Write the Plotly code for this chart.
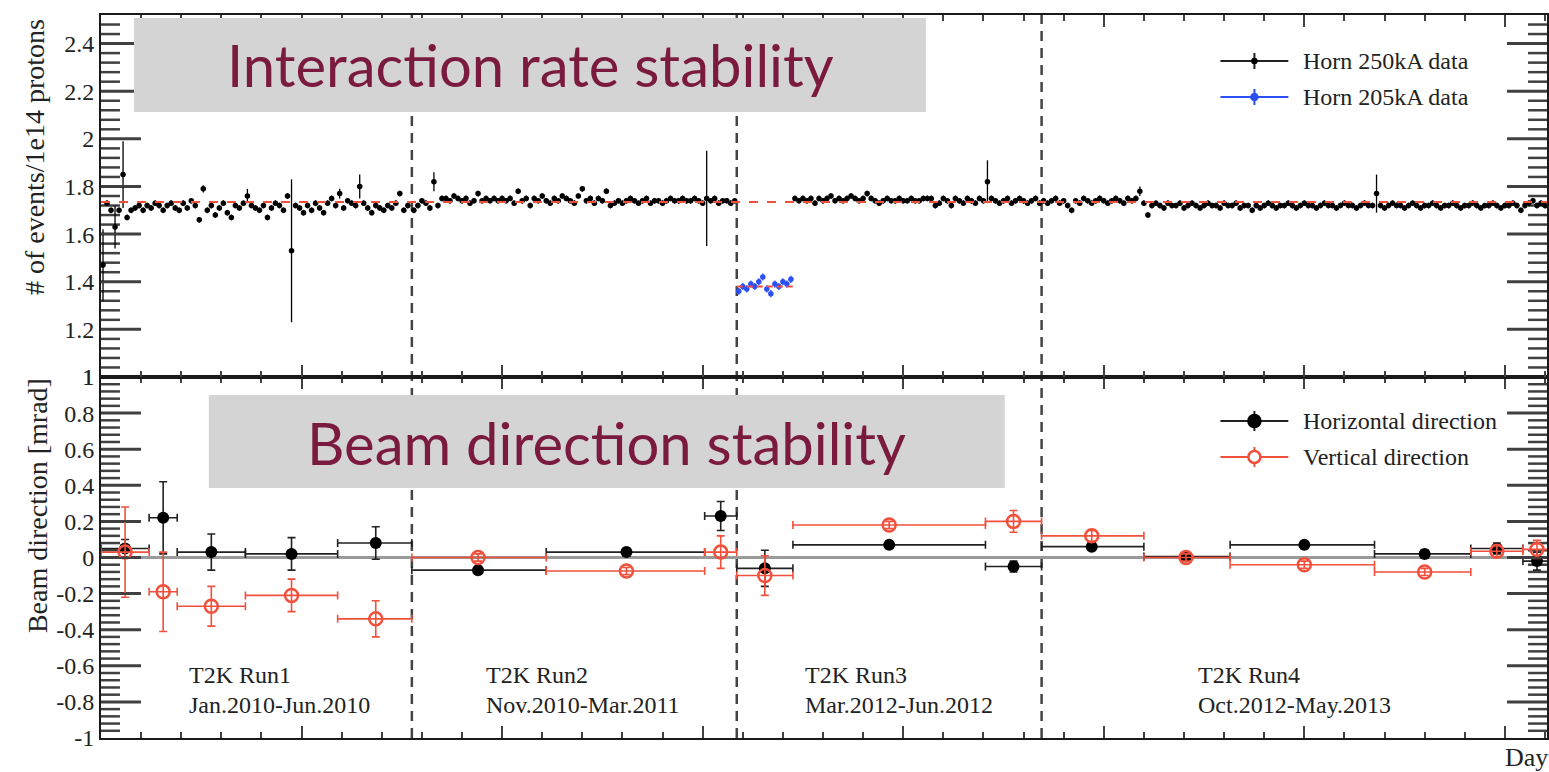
import plotly.graph_objects as go

# ------------------------------------------------------------------
# Interaction rate per 1e14 protons, one point every 2 beam days
# ------------------------------------------------------------------
DAY_STEP = 2

run1_start = 1
run1_rate = [
    1.47, 1.73, 1.70, 1.63, 1.70, 1.85, 1.67, 1.70, 1.71, 1.72,
    1.70, 1.72, 1.71, 1.73, 1.72, 1.70, 1.72, 1.73, 1.71, 1.70,
    1.73, 1.71, 1.74, 1.72, 1.66, 1.79, 1.70, 1.72, 1.68, 1.71,
    1.73, 1.69, 1.67, 1.72, 1.71, 1.73, 1.76, 1.72, 1.71, 1.70,
    1.72, 1.67, 1.71, 1.73, 1.72, 1.70, 1.76, 1.53, 1.72, 1.71,
    1.69, 1.72, 1.70, 1.73, 1.71, 1.69, 1.73, 1.75, 1.72, 1.77,
    1.71, 1.74, 1.73, 1.72, 1.80, 1.73, 1.71, 1.69, 1.72, 1.71,
    1.70, 1.72, 1.71, 1.73, 1.77, 1.70, 1.72,
]

run2_start = 156
run2_rate = [
    1.70, 1.72, 1.74, 1.73, 1.71, 1.82, 1.72, 1.75, 1.75, 1.74,
    1.76, 1.75, 1.74, 1.75, 1.73, 1.74, 1.77, 1.74, 1.75, 1.74,
    1.75, 1.74, 1.75, 1.74, 1.75, 1.73, 1.78, 1.74, 1.75, 1.72,
    1.75, 1.74, 1.76, 1.74, 1.73, 1.75, 1.74, 1.76, 1.75, 1.74,
    1.73, 1.76, 1.79, 1.74, 1.75, 1.73, 1.75, 1.74, 1.78, 1.72,
    1.73, 1.74, 1.73, 1.74, 1.75, 1.74, 1.73, 1.74, 1.75, 1.73,
    1.74, 1.74, 1.73, 1.74, 1.75, 1.74, 1.74, 1.75, 1.74, 1.74,
    1.75, 1.74, 1.73, 1.75, 1.74, 1.75, 1.73, 1.74, 1.74, 1.73,
    1.74,
]

horn205_start = 318
horn205_rate = [
    1.36, 1.38, 1.37, 1.39, 1.38, 1.40, 1.42, 1.37, 1.35, 1.39,
    1.38, 1.40, 1.39, 1.41,
]

run3_start = 346
run3_rate = [
    1.75, 1.74, 1.75, 1.74, 1.75, 1.73, 1.75, 1.74, 1.75, 1.76,
    1.74, 1.75, 1.74, 1.75, 1.76, 1.75, 1.74, 1.75, 1.77, 1.75,
    1.74, 1.73, 1.74, 1.75, 1.74, 1.74, 1.75, 1.74, 1.74, 1.75,
    1.74, 1.74, 1.75, 1.75, 1.75, 1.72, 1.73, 1.75, 1.74, 1.72,
    1.75, 1.74, 1.73, 1.75, 1.74, 1.73, 1.75, 1.74, 1.82, 1.75,
    1.74, 1.73, 1.74, 1.75, 1.73, 1.74, 1.75, 1.74, 1.73, 1.74,
    1.75, 1.73,
]

run4_start = 470
run4_rate = [
    1.74, 1.73, 1.74, 1.75, 1.73, 1.74, 1.72, 1.70,
    1.74, 1.73, 1.75, 1.74, 1.73, 1.74, 1.75, 1.74, 1.73, 1.74,
    1.75, 1.74, 1.73, 1.75, 1.74, 1.75, 1.78,
    1.73, 1.68,
    1.72, 1.73, 1.72, 1.71, 1.73, 1.72, 1.72, 1.73, 1.71, 1.72,
    1.73, 1.72, 1.71, 1.72, 1.73, 1.72, 1.72, 1.71, 1.73, 1.72,
    1.72, 1.73, 1.71, 1.72, 1.72, 1.70,
    1.72, 1.71, 1.72, 1.73, 1.72, 1.71, 1.72, 1.72, 1.73, 1.72,
    1.71, 1.72, 1.73, 1.72, 1.72, 1.71, 1.72, 1.73, 1.72, 1.72,
    1.71, 1.72, 1.73, 1.72, 1.72, 1.71, 1.72, 1.73, 1.72, 1.72,
    1.77,
    1.72, 1.71, 1.72, 1.73, 1.72, 1.72, 1.71, 1.72, 1.73, 1.72,
    1.71, 1.72, 1.72, 1.73, 1.72, 1.71, 1.72, 1.72, 1.73, 1.72,
    1.71, 1.72, 1.72, 1.73, 1.72, 1.71, 1.72, 1.72, 1.73, 1.72,
    1.71, 1.72, 1.72, 1.73, 1.72,
    1.70,
    1.72, 1.73, 1.74, 1.72, 1.73, 1.72,
]

# statistical error of a typical day, and the days with larger errors
rate_err = 0.012
horn205_err = 0.015
rate_large_err = {1: 0.15, 7: 0.09, 11: 0.14, 51: 0.015, 73: 0.03, 95: 0.30,
                  119: 0.02, 129: 0.05, 166: 0.04, 302: 0.20, 442: 0.09,
                  518: 0.02, 636: 0.08}

# constant fits
fit_250kA = 1.735
fit_205kA = 1.38

# ------------------------------------------------------------------
# Beam direction per period [mrad]
# ------------------------------------------------------------------
bin_lo     = [0, 24, 38, 72, 118, 155, 222, 301, 317, 345, 441, 469, 520, 563, 635, 683, 709]
bin_hi     = [24, 38, 72, 118, 155, 222, 301, 317, 345, 441, 469, 520, 563, 635, 683, 709, 726]
bin_center = [12, 31, 55, 95, 137, 188, 262, 309, 331, 393, 455, 494, 541, 600, 660, 696, 716]

horizontal     = [0.05, 0.22, 0.03, 0.02, 0.08, -0.07, 0.03, 0.23, -0.06, 0.07, -0.05, 0.06, 0.005, 0.07, 0.02, 0.05, -0.02]
horizontal_err = [0.05, 0.20, 0.10, 0.09, 0.09, 0.02, 0.02, 0.08, 0.10, 0.02, 0.03, 0.02, 0.02, 0.02, 0.02, 0.03, 0.05]
vertical       = [0.03, -0.19, -0.27, -0.21, -0.34, 0.0, -0.075, 0.03, -0.10, 0.18, 0.20, 0.12, 0.0, -0.04, -0.08, 0.035, 0.045]
vertical_err   = [0.25, 0.22, 0.11, 0.09, 0.10, 0.02, 0.02, 0.09, 0.11, 0.02, 0.06, 0.03, 0.02, 0.02, 0.02, 0.03, 0.05]

run_boundaries = [155, 317, 469]
run_names = ["T2K Run1", "T2K Run2", "T2K Run3", "T2K Run4"]
run_periods = ["Jan.2010-Jun.2010", "Nov.2010-Mar.2011", "Mar.2012-Jun.2012", "Oct.2012-May.2013"]
run_label_day = [43, 191, 350, 546]

dir_ticks = [-1, -0.8, -0.6, -0.4, -0.2, 0, 0.2, 0.4, 0.6, 0.8, 1]

# ------------------------------------------------------------------
# page geometry
# ------------------------------------------------------------------
W, H = 1549, 772
PL, PR, PT, PB = 101, 1549, 15, 738
SPLIT = 377
X_MAX = 721
RATE_RANGE = [1, 2.52]
DIR_RANGE = [-1, 1]
MAJOR_TICK_LEN, MINOR_TICK_LEN = 40, 19   # pixels

def fx(px):
    return (px - PL) / (PR - PL)

def fy(py):
    return (PB - py) / (PB - PT)

SERIF = "Liberation Serif"
INK = "#222222"
TICK = "#404040"
RED = "#F0503C"
BLUE = "#2B50F5"
MAROON = "#7A1A3E"

fig = go.Figure()


# long inward y ticks on both sides of each panel (major every 0.2, minor every 0.04),
# drawn as line segments in day units of the shared x axis
def y_tick_trace(xaxis, yaxis, lo, hi, major=0.2, minor=0.04):
    days_per_px = X_MAX / (PR - PL)
    n = int(round((hi - lo) / minor))
    xs_major, ys_major, xs_minor, ys_minor = [], [], [], []
    for i in range(1, n):
        v = lo + i * minor
        is_major = abs(v / major - round(v / major)) < 1e-6
        length = (MAJOR_TICK_LEN if is_major else MINOR_TICK_LEN) * days_per_px
        xs, ys = (xs_major, ys_major) if is_major else (xs_minor, ys_minor)
        xs += [0, length, None, X_MAX - length, X_MAX, None]
        ys += [v, v, None, v, v, None]
    for xs, ys, w in [(xs_major, ys_major, 3), (xs_minor, ys_minor, 2.5)]:
        fig.add_trace(go.Scatter(x=xs, y=ys, mode="lines", xaxis=xaxis, yaxis=yaxis,
                                 line=dict(color=TICK, width=w), hoverinfo="skip",
                                 showlegend=False))


y_tick_trace("x2", "y2", RATE_RANGE[0], RATE_RANGE[1])
y_tick_trace("x", "y", DIR_RANGE[0], DIR_RANGE[1])


def days_for(start, vals):
    return [start + DAY_STEP * i for i in range(len(vals))]


def rate_trace(start, vals, color, base_err):
    days = days_for(start, vals)
    errs = [rate_large_err.get(d, base_err) for d in days]
    return go.Scatter(
        x=days, y=vals, mode="markers", xaxis="x2", yaxis="y2",
        marker=dict(color=color, size=5.5),
        error_y=dict(type="data", array=errs, color=color, thickness=1.3, width=0),
        error_x=dict(type="constant", value=DAY_STEP / 2, color=color, thickness=2, width=0),
        showlegend=False, hoverinfo="x+y",
    )


for start, vals in [(run1_start, run1_rate), (run2_start, run2_rate),
                    (run3_start, run3_rate), (run4_start, run4_rate)]:
    fig.add_trace(rate_trace(start, vals, "black", rate_err))
fig.add_trace(rate_trace(horn205_start, horn205_rate, BLUE, horn205_err))

err_plus = [h - c for h, c in zip(bin_hi, bin_center)]
err_minus = [c - l for l, c in zip(bin_lo, bin_center)]

fig.add_trace(go.Scatter(
    x=bin_center, y=horizontal, mode="markers", xaxis="x", yaxis="y",
    marker=dict(color="black", size=12),
    error_x=dict(type="data", array=err_plus, arrayminus=err_minus, symmetric=False,
                 color="#222222", thickness=1.6, width=4),
    error_y=dict(type="data", array=horizontal_err, color="#222222", thickness=1.6, width=4),
    showlegend=False,
))
fig.add_trace(go.Scatter(
    x=bin_center, y=vertical, mode="markers", xaxis="x", yaxis="y",
    marker=dict(color=RED, size=13, symbol="circle-open", line=dict(width=2.5, color=RED)),
    error_x=dict(type="data", array=err_plus, arrayminus=err_minus, symmetric=False,
                 color=RED, thickness=1.6, width=4),
    error_y=dict(type="data", array=vertical_err, color=RED, thickness=1.6, width=4),
    showlegend=False,
))

shapes = []
# run boundaries
for d in run_boundaries:
    shapes.append(dict(type="line", xref="x", yref="paper", x0=d, x1=d, y0=0, y1=1,
                       line=dict(color="#444444", width=2.5, dash="10px,7px"), layer="below"))
# zero line of the direction panel
shapes.append(dict(type="line", xref="x", yref="y", x0=0, x1=X_MAX, y0=0, y1=0,
                   line=dict(color="#9a9a9a", width=3), layer="below"))
# constant fits
shapes.append(dict(type="line", xref="x2", yref="y2", x0=0, x1=X_MAX, y0=fit_250kA, y1=fit_250kA,
                   line=dict(color=RED, width=2, dash="9px,9px"), layer="above"))
shapes.append(dict(type="line", xref="x2", yref="y2", x0=run_boundaries[1], x1=run3_start - 1,
                   y0=fit_205kA, y1=fit_205kA,
                   line=dict(color=RED, width=2, dash="6px,4px"), layer="above"))

# grey title boxes
shapes.append(dict(type="rect", xref="paper", yref="paper",
                   x0=fx(134), x1=fx(927), y0=fy(112), y1=fy(18),
                   fillcolor="#D4D4D4", line=dict(width=0), layer="above"))
shapes.append(dict(type="rect", xref="paper", yref="paper",
                   x0=fx(209), x1=fx(1006), y0=fy(488), y1=fy(395),
                   fillcolor="#D4D4D4", line=dict(width=0), layer="above"))

# legend glyphs
def legend_line(py, color):
    shapes.append(dict(type="line", xref="paper", yref="paper",
                       x0=fx(1222), x1=fx(1290), y0=fy(py), y1=fy(py),
                       line=dict(color=color, width=2)))

def legend_bar(py, half, color):
    shapes.append(dict(type="line", xref="paper", yref="paper",
                       x0=fx(1256), x1=fx(1256), y0=fy(py + half), y1=fy(py - half),
                       line=dict(color=color, width=2)))

def legend_dot(py, r, color, filled=True):
    shapes.append(dict(type="circle", xref="paper", yref="paper",
                       x0=fx(1256 - r), x1=fx(1256 + r), y0=fy(py + r), y1=fy(py - r),
                       fillcolor=color if filled else "white",
                       line=dict(color=color, width=2.5)))

legend_line(61, "#222222"); legend_bar(61, 8, "#222222"); legend_dot(61, 2, "black")
legend_line(97, BLUE); legend_bar(97, 8, BLUE); legend_dot(97, 3, BLUE)
legend_line(421, "#222222"); legend_bar(421, 10, "#222222"); legend_dot(421, 6, "black")
legend_line(457, RED); legend_bar(457, 10, RED); legend_dot(457, 6, RED, filled=False)

annotations = []

def text(px, py, s, size=24, anchor="left", color=INK, family=SERIF, angle=0):
    annotations.append(dict(xref="paper", yref="paper", x=fx(px), y=fy(py), text=s,
                            showarrow=False, xanchor=anchor, yanchor="middle",
                            textangle=angle, font=dict(family=family, size=size, color=color)))

text(1303, 61, "Horn 250kA data")
text(1303, 97, "Horn 205kA data")
text(1303, 421, "Horizontal direction")
text(1303, 457, "Vertical direction")

for day, name, period in zip(run_label_day, run_names, run_periods):
    px = PL + (PR - PL) * day / X_MAX
    text(px, 675, name)
    text(px, 705, period)

text(531, 65, "Interaction rate stability", size=58, anchor="center", color=MAROON, family="Lato")
text(607, 442, "Beam direction stability", size=58, anchor="center", color=MAROON, family="Lato")

text(35, 157, "# of events/1e14 protons", size=28, anchor="center", angle=-90)
text(37, 506, "Beam direction [mrad]", size=28, anchor="center", angle=-90)
text(1505, 758, "Day", size=26)

split_frac = fy(SPLIT)

axis_common = dict(showline=True, linecolor="#1a1a1a", linewidth=2,
                   showgrid=False, zeroline=False)

x_common = dict(axis_common, mirror="ticks", ticks="inside", tickcolor=TICK, tickwidth=1.8,
                range=[0, X_MAX], tick0=0, dtick=100, ticklen=12,
                showticklabels=False,
                minor=dict(dtick=20, ticklen=6, ticks="inside", tickcolor=TICK,
                           tickwidth=1.6, showgrid=False))

y_common = dict(axis_common, mirror="ticks", ticks="inside", ticklen=MAJOR_TICK_LEN,
                tickcolor=TICK, tickwidth=2,
                tickfont=dict(family=SERIF, size=24, color=INK))

fig.update_layout(
    width=W, height=H, autosize=False,
    margin=dict(l=PL, r=W - PR, t=PT, b=H - PB),
    paper_bgcolor="white", plot_bgcolor="white",
    font=dict(family=SERIF, color=INK),
    showlegend=False,
    xaxis=dict(x_common, anchor="y", domain=[0, 1]),
    xaxis2=dict(x_common, anchor="y2", matches="x", domain=[0, 1]),
    yaxis=dict(y_common, domain=[0, split_frac], range=DIR_RANGE, anchor="x",
               tickmode="array", tickvals=dir_ticks,
               ticktext=["%g" % v for v in dir_ticks]),
    yaxis2=dict(y_common, domain=[split_frac, 1], range=RATE_RANGE, anchor="x2",
                tickmode="linear", tick0=1, dtick=0.2),
    shapes=shapes,
    annotations=annotations,
)

fig.write_html("out.html")
